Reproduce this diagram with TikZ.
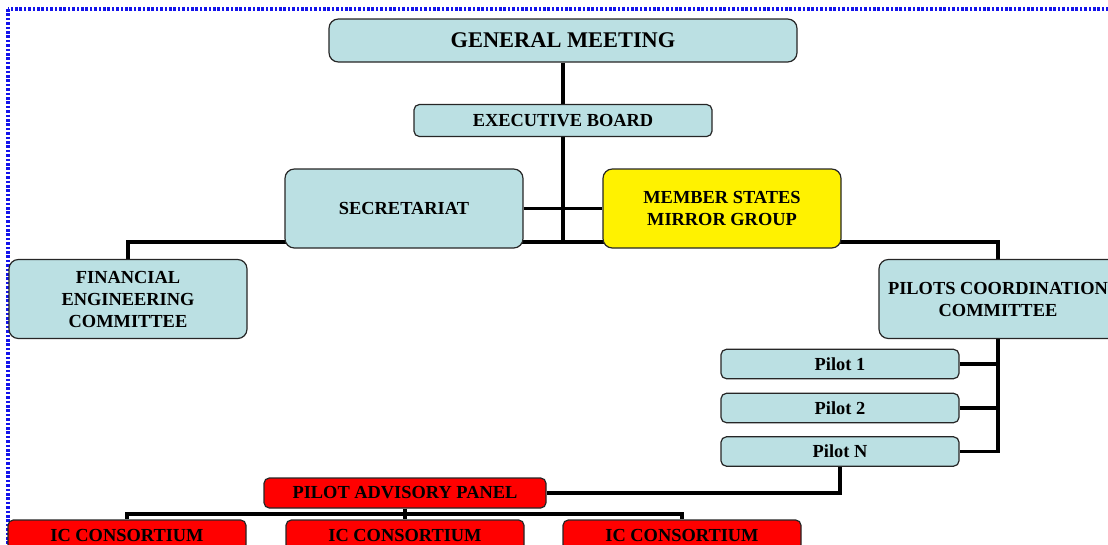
\documentclass[tikz,border=0pt]{standalone}
\usepackage{fontspec}
\setmainfont{Liberation Serif}
\usetikzlibrary{positioning,backgrounds}
\definecolor{boxblue}{RGB}{187,224,227}
\definecolor{frameblue}{RGB}{20,20,235}

\begin{document}
\begin{tikzpicture}[x=0.75pt, y=-0.75pt,
    unit/.style={draw=black!85, line width=0.9pt, fill=boxblue,
      rounded corners=7pt, align=center, inner sep=2pt,
      font=\bfseries\fontsize{13.8}{16.5}\selectfont,
      minimum width=178.5pt, minimum height=59.25pt},
    small/.style={unit, rounded corners=4pt, minimum height=22pt},
    panel/.style={small, fill=red, minimum height=22.5pt},
    link/.style={line width=2.5pt}]
  \useasboundingbox (0,0) rectangle (1108,544);
  \clip (0,0) rectangle (1108,544);
  \draw[frameblue, line width=3pt, dash pattern=on 2pt off 1.3pt]
    (8,9) rectangle (1125,560);

  \node[unit, minimum width=351pt, minimum height=32.25pt,
    font=\bfseries\fontsize{16.8}{20}\selectfont] (gm) at (563,40.5) {GENERAL MEETING};
  \node[small, minimum width=223.5pt, minimum height=24pt] (eb) at (563,120.5) {EXECUTIVE BOARD};
  \node[unit] (sec) at (404,208.5) {SECRETARIAT};
  \node[unit, fill=yellow] (msmg) at (722,208.5) {MEMBER STATES\\MIRROR GROUP};
  \node[unit] (fec) at (128,299) {FINANCIAL\\ENGINEERING\\COMMITTEE};
  \node[unit] (pcc) at (998,299) {PILOTS COORDINATION\\COMMITTEE};
  \node[small] (p1) at (840,364) {Pilot 1};
  \node[small] (p2) at (840,408) {Pilot 2};
  \node[small] (pN) at (840,451.5) {Pilot N};
  \node[panel, minimum width=211.5pt] (pap) at (405,493) {PILOT ADVISORY PANEL};
  \node[panel] (ic1) at (127,535) {IC CONSORTIUM};
  \node[panel] (ic2) at (405,535) {IC CONSORTIUM};
  \node[panel] (ic3) at (682,535) {IC CONSORTIUM};

  \begin{scope}[on background layer]
    \coordinate (hub) at (563,242);
    \coordinate (icbus) at (405,514);
    \draw[link] (gm) -- (hub);
    \draw[link] (fec.north) |- (hub) -| (pcc.north);
    \draw[link] (sec) -- (msmg);
    \draw[link] (pcc.south) |- (pN);
    \draw[link] (p1) -- (p1 -| pcc.south);
    \draw[link] (p2) -- (p2 -| pcc.south);
    \draw[link] (pN.south) |- (pap);
    \draw[link] (pap) -- (ic2);
    \draw[link] (ic1.north) |- (icbus) -| (ic3.north);
  \end{scope}
\end{tikzpicture}
\end{document}
